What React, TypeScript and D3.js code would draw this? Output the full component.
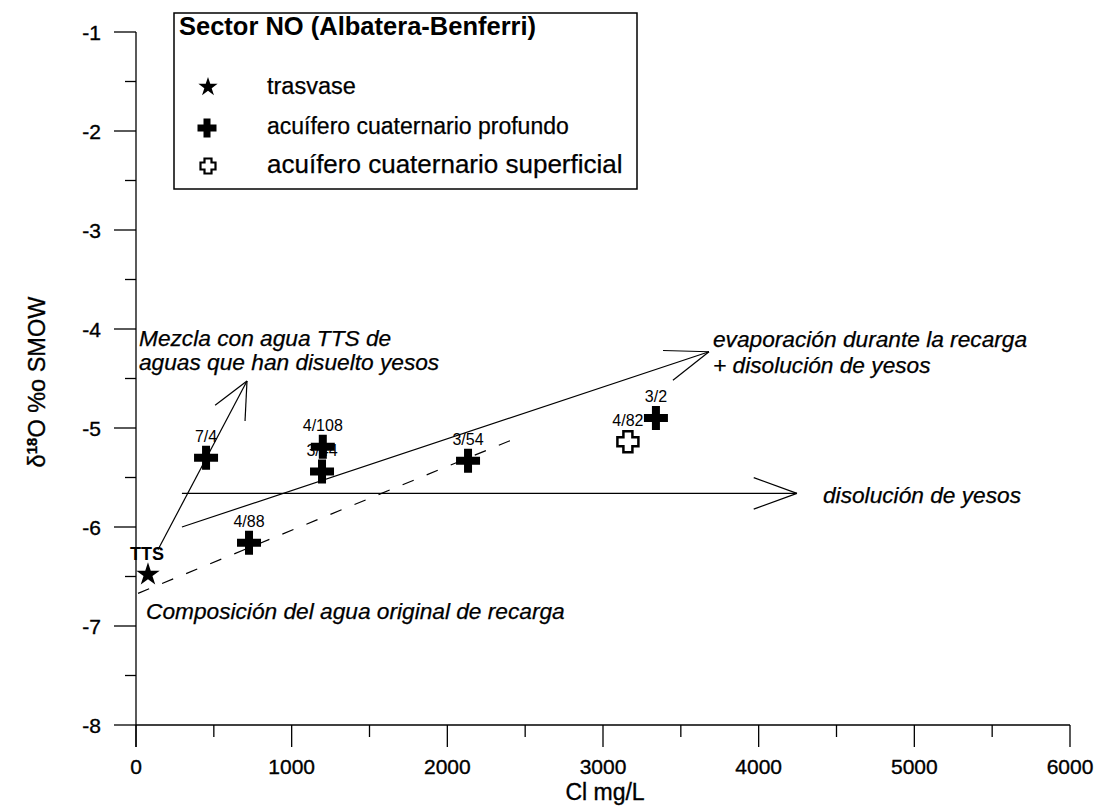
import React from "react";
import * as d3 from "d3";

// δ18O vs chloride, sector NO (Albatera-Benferri)
const trasvase = [{ label: "TTS", cl: 77, d18o: -6.48 }];

const profundo = [
  { label: "7/4", cl: 450, d18o: -5.3 },
  { label: "4/88", cl: 726, d18o: -6.16 },
  { label: "3/44", cl: 1195, d18o: -5.44 },
  { label: "4/108", cl: 1200, d18o: -5.19 },
  { label: "3/54", cl: 2133, d18o: -5.33 },
  { label: "3/2", cl: 3340, d18o: -4.9 },
];

const superficial = [{ label: "4/82", cl: 3160, d18o: -5.14 }];

const xMajorTicks = [0, 1000, 2000, 3000, 4000, 5000, 6000];
const xMinorTicks = [500, 1500, 2500, 3500, 4500, 5500];
const yMajorTicks = [-1, -2, -3, -4, -5, -6, -7, -8];
const yMinorTicks = [-1.5, -2.5, -3.5, -4.5, -5.5, -6.5, -7.5];

// Process lines, in data units [Cl, δ18O]
const mixingArrow: [number, number][] = [[141, -6.23], [713, -4.525]];
const evaporationArrow: [number, number][] = [[295, -6.0], [3681, -4.23]];
const gypsumArrow: [number, number][] = [[295, -5.66], [4246, -5.66]];
const rechargeLine: [number, number][] = [[13, -6.67], [2415, -5.12]];

const legendTitle = "Sector NO (Albatera-Benferri)";
const legendItems = ["trasvase", "acuífero cuaternario profundo", "acuífero cuaternario superficial"];

const FONT = "'Liberation Sans', Arial, Helvetica, sans-serif";

const W = 1098;
const H = 808;

const x = d3.scaleLinear().domain([0, 6000]).range([136, 1070]);
const y = d3.scaleLinear().domain([-8, -1]).range([725, 32]);

function plusPath(size: number, arm: number) {
  const h = size / 2;
  const t = arm / 2;
  return `M${-t},${-h}H${t}V${-t}H${h}V${t}H${t}V${h}H${-t}V${t}H${-h}V${-t}H${-t}Z`;
}

const starLarge = d3.symbol(d3.symbolStar, 170)()!;
const starSmall = d3.symbol(d3.symbolStar, 115)()!;

function Arrow({ pts, len = 45, angle = 21 }: { pts: [number, number][]; len?: number; angle?: number }) {
  const [x0, y0] = [x(pts[0][0]), y(pts[0][1])];
  const [x1, y1] = [x(pts[1][0]), y(pts[1][1])];
  const back = Math.atan2(y0 - y1, x0 - x1);
  const a = (angle * Math.PI) / 180;
  const b1 = [x1 + len * Math.cos(back + a), y1 + len * Math.sin(back + a)];
  const b2 = [x1 + len * Math.cos(back - a), y1 + len * Math.sin(back - a)];
  return (
    <g stroke="#000" strokeWidth={1.2} fill="none">
      <line x1={x0} y1={y0} x2={x1} y2={y1} />
      <line x1={x1} y1={y1} x2={b1[0]} y2={b1[1]} />
      <line x1={x1} y1={y1} x2={b2[0]} y2={b2[1]} />
    </g>
  );
}

export default function App() {
  const line = d3.line<[number, number]>().x((d) => x(d[0])).y((d) => y(d[1]));
  const heavy = { stroke: "#000", strokeWidth: 0.35 };
  return (
    <svg
      width={W}
      height={H}
      style={{ position: "absolute", left: 0, top: 0, background: "#fff" }}
      fontFamily={FONT}
    >
      <rect width={W} height={H} fill="#fff" />

      {/* Y axis */}
      <g stroke="#000" strokeWidth={1.3}>
        <line x1={x(0)} y1={y(-1)} x2={x(0)} y2={y(-8) + 22} />
        {yMajorTicks.map((v) => (
          <line key={v} x1={x(0) - 22} x2={x(0)} y1={y(v)} y2={y(v)} />
        ))}
        {yMinorTicks.map((v) => (
          <line key={v} x1={x(0) - 11} x2={x(0)} y1={y(v)} y2={y(v)} />
        ))}
      </g>
      <g {...heavy}>
        {yMajorTicks.map((v) => (
          <text key={v} x={101} y={y(v)} dy="0.36em" textAnchor="end" fontSize={21}>
            {String(v)}
          </text>
        ))}
      </g>

      {/* X axis */}
      <g stroke="#000" strokeWidth={1.3}>
        <line x1={x(0)} y1={y(-8)} x2={x(6000)} y2={y(-8)} />
        {xMajorTicks.map((v) => (
          <line key={v} x1={x(v)} x2={x(v)} y1={y(-8)} y2={y(-8) + 22} />
        ))}
        {xMinorTicks.map((v) => (
          <line key={v} x1={x(v)} x2={x(v)} y1={y(-8)} y2={y(-8) + 12} />
        ))}
      </g>
      <g {...heavy}>
        {xMajorTicks.map((v) => (
          <text key={v} x={x(v)} y={774} textAnchor="middle" fontSize={21}>
            {String(v)}
          </text>
        ))}
        <text x={605} y={800} textAnchor="middle" fontSize={23}>
          Cl mg/L
        </text>
        <text transform="translate(45,382) rotate(-90)" textAnchor="middle" fontSize={23.5}>
          δ
          <tspan fontSize={15} dy={-8} fontWeight="bold">
            18
          </tspan>
          <tspan dy={8}>O %o SMOW</tspan>
        </text>
      </g>

      {/* Process lines */}
      <path
        d={line(rechargeLine)!}
        stroke="#000"
        strokeWidth={1.2}
        fill="none"
        strokeDasharray="12,14"
      />
      <Arrow pts={mixingArrow} len={40} angle={25} />
      <Arrow pts={evaporationArrow} len={46} angle={20} />
      <Arrow pts={gypsumArrow} len={46} angle={20} />

      {/* Annotations */}
      <g fontSize={22.7} fontStyle="italic" {...heavy} strokeWidth={0.25}>
        <text x={139} y={346}>Mezcla con agua TTS de</text>
        <text x={139} y={370}>aguas que han disuelto yesos</text>
        <text x={713} y={347}>evaporación durante la recarga</text>
        <text x={713} y={373}>+ disolución de yesos</text>
        <text x={823} y={503}>disolución de yesos</text>
        <text x={146} y={619}>Composición del agua original de recarga</text>
      </g>

      {/* Point labels */}
      {profundo.concat(superficial).map((d) => (
        <text key={d.label} x={x(d.cl)} y={y(d.d18o) - 16} textAnchor="middle" fontSize={16}>
          {d.label}
        </text>
      ))}
      {trasvase.map((d) => (
        <text key={d.label} x={x(d.cl) - 1} y={y(d.d18o) - 15} textAnchor="middle" fontSize={18} fontWeight="bold">
          {d.label}
        </text>
      ))}

      {/* Markers */}
      {trasvase.map((d) => (
        <path key={d.label} d={starLarge} transform={`translate(${x(d.cl)},${y(d.d18o)})`} fill="#000" />
      ))}
      {profundo.map((d) => (
        <path key={d.label} d={plusPath(24, 8)} transform={`translate(${x(d.cl)},${y(d.d18o)})`} fill="#000" />
      ))}
      {superficial.map((d) => (
        <path
          key={d.label}
          d={plusPath(21, 9)}
          transform={`translate(${x(d.cl)},${y(d.d18o)})`}
          fill="#fff"
          stroke="#000"
          strokeWidth={2.5}
        />
      ))}

      {/* Legend */}
      <rect x={174} y={13} width={463} height={176} fill="#fff" stroke="#000" strokeWidth={1.5} />
      <text x={179} y={35} fontSize={25.5} fontWeight="bold">
        {legendTitle}
      </text>
      <path d={starSmall} transform="translate(208,87)" fill="#000" />
      <path d={plusPath(19, 7)} transform="translate(207,128)" fill="#000" />
      <path d={plusPath(15, 7)} transform="translate(208,166)" fill="#fff" stroke="#000" strokeWidth={2.2} />
      <g {...heavy} strokeWidth={0.25}>
        <text x={267} y={94} fontSize={23.5}>
          {legendItems[0]}
        </text>
        <text x={267} y={134} fontSize={23}>
          {legendItems[1]}
        </text>
        <text x={267} y={173} fontSize={26}>
          {legendItems[2]}
        </text>
      </g>
    </svg>
  );
}
